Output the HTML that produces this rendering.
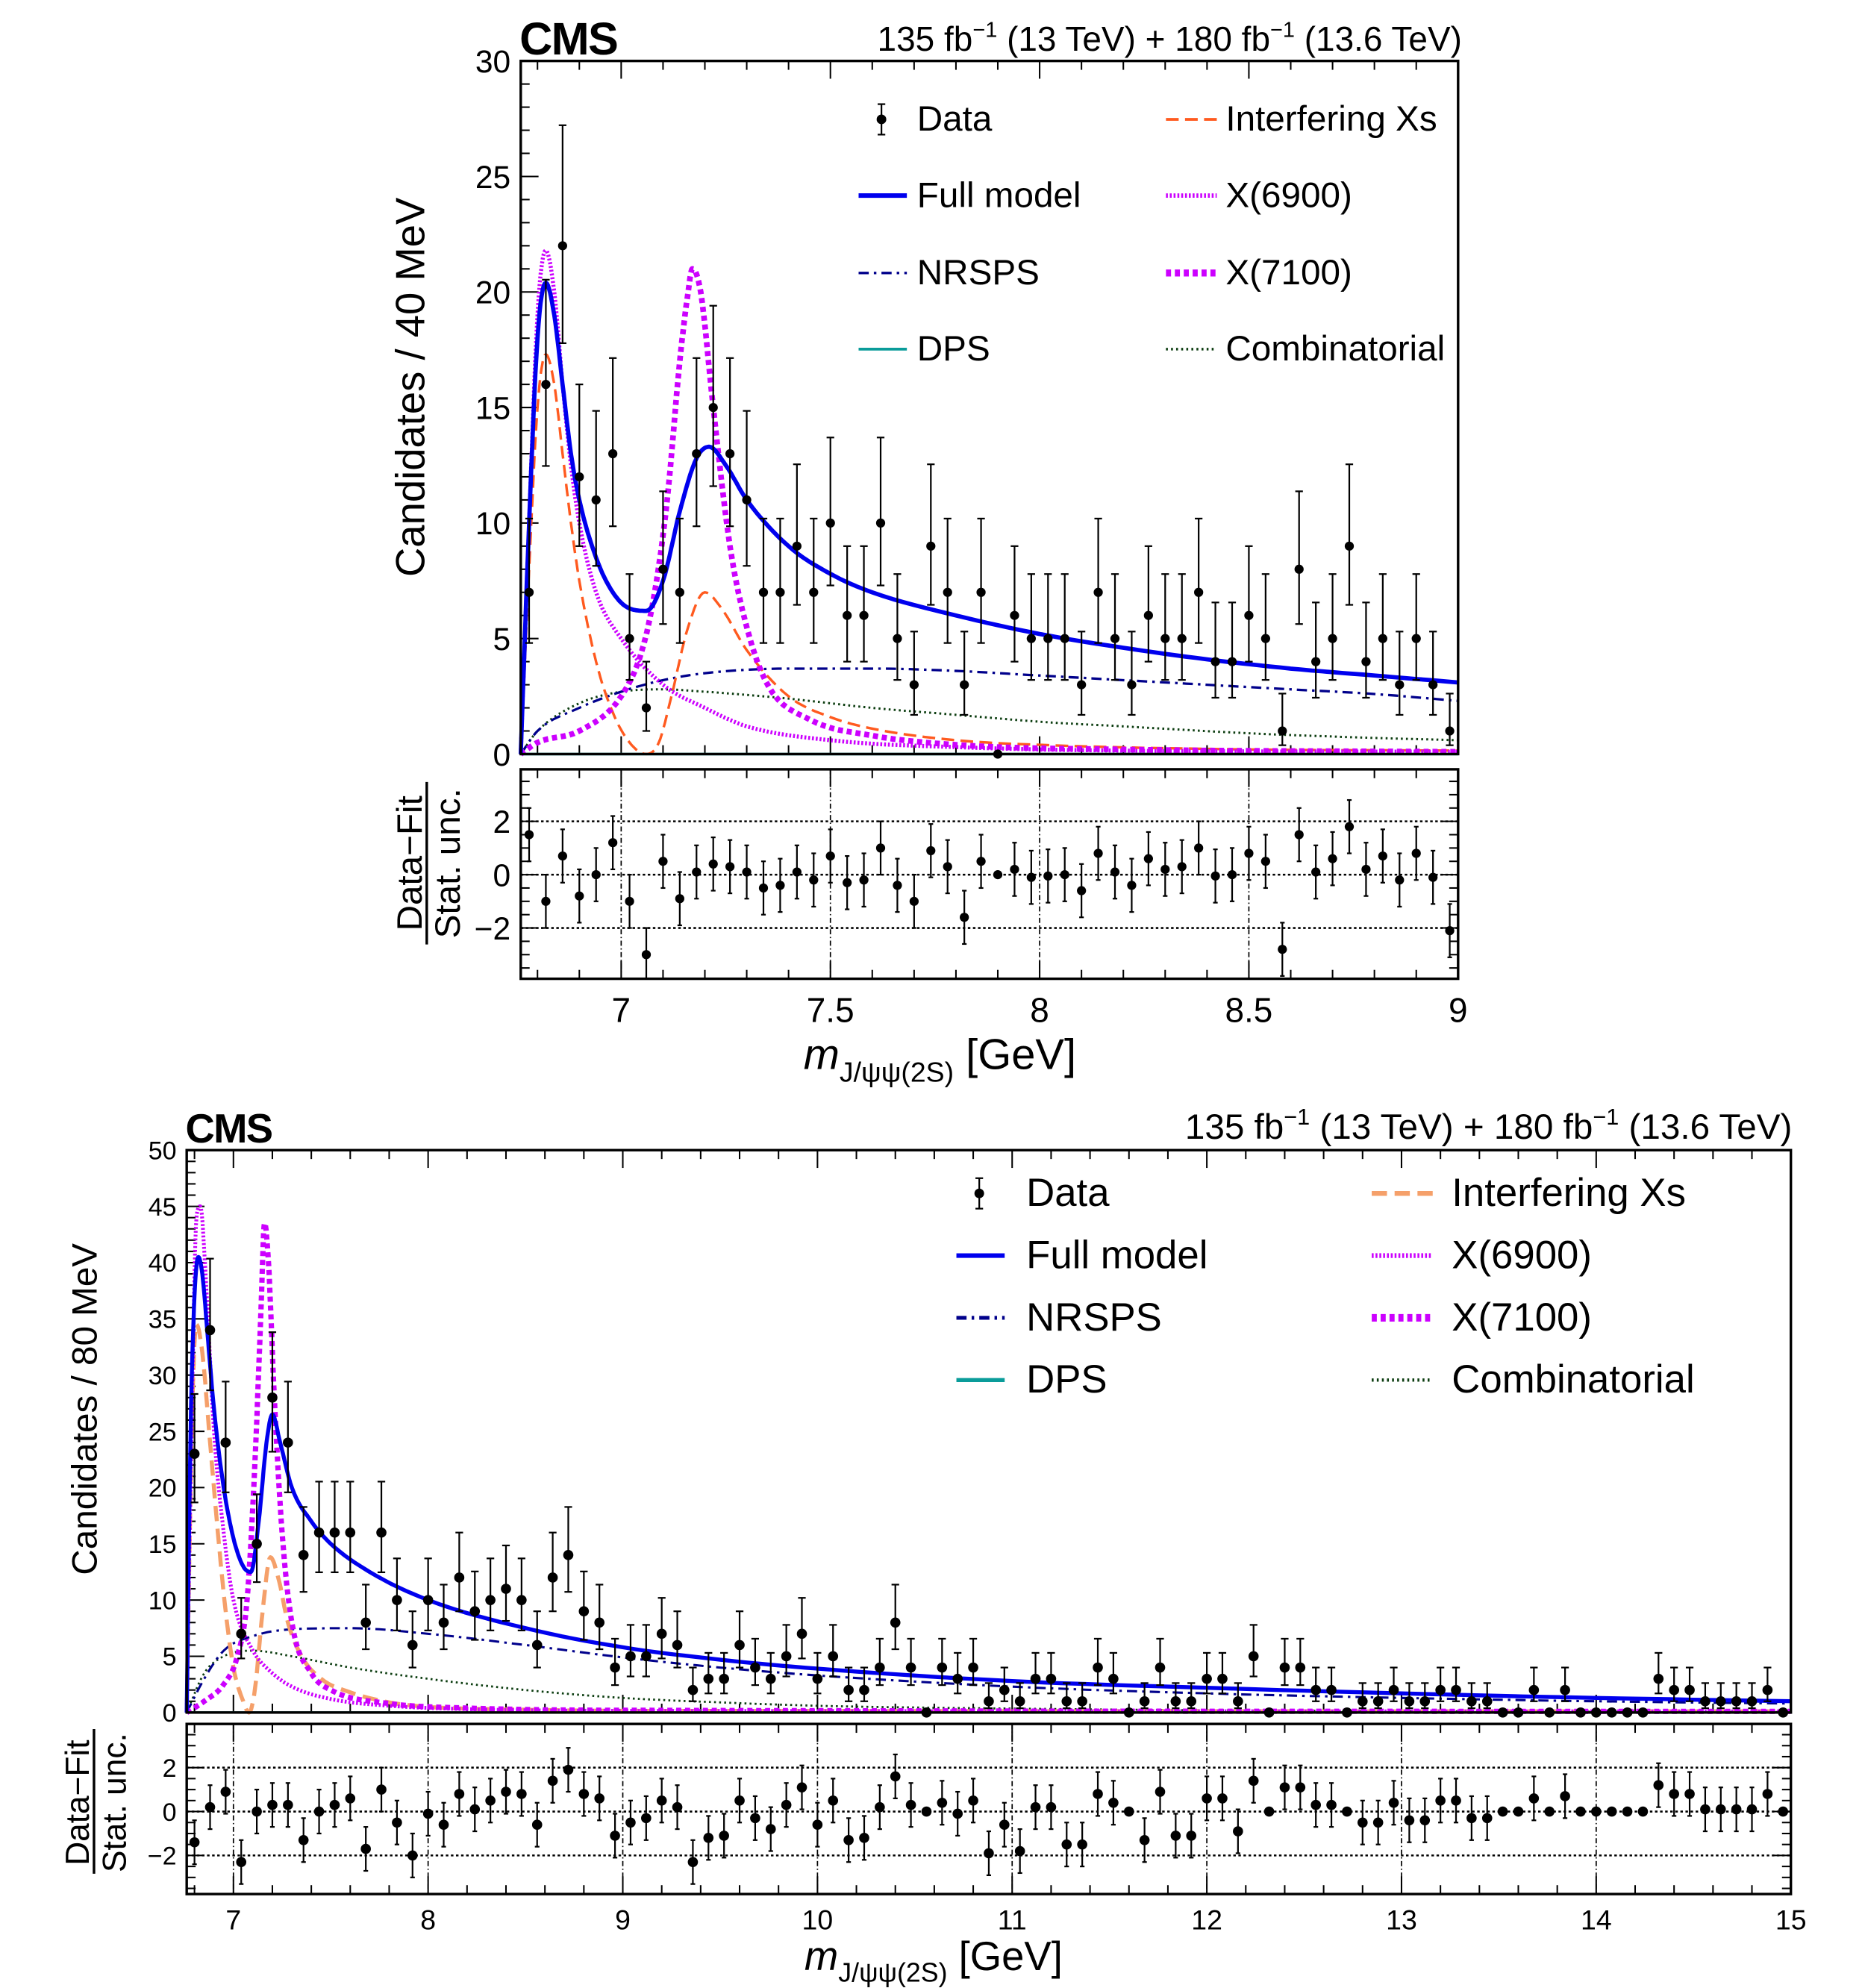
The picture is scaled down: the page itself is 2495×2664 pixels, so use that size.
<!DOCTYPE html>
<html><head><meta charset="utf-8"><style>
html,body{margin:0;padding:0;background:#fff;}
svg{display:block;font-family:"Liberation Sans",sans-serif;}
</style></head><body>
<svg id="fig" xmlns="http://www.w3.org/2000/svg" width="2495" height="2664" viewBox="0 0 1466 1566" preserveAspectRatio="none"></svg>
<script>
// ===== Top plot data (40 MeV bins, 6.76-9.00 GeV) =====
const topCounts=[7,16,22,12,11,13,5,2,8,7,13,15,13,11,7,7,9,7,10,6,6,10,5,3,9,7,3,7,0,6,5,5,5,3,7,5,3,6,5,5,7,4,4,6,5,1,8,4,5,9,4,5,3,5,3,1];
const topPulls=[1.5,-1,0.7,-0.8,0,1.2,-1,-3,0.5,-0.9,0.1,0.4,0.3,0.1,-0.5,-0.4,0.1,-0.2,0.7,-0.3,-0.2,1.0,-0.4,-1.0,0.9,0.3,-1.6,0.5,0.0,0.2,-0.1,-0.05,0,-0.6,0.8,0.1,-0.4,0.6,0.2,0.3,1.0,-0.05,0,0.8,0.5,-2.8,1.5,0.1,0.6,1.8,0.2,0.7,-0.2,0.8,-0.1,-2.1];
const topYTicks=[0,5,10,15,20,25,30];
const topXTicks=[7,7.5,8,8.5,9];
const topFullM=[6.76,6.78,6.80,6.82,6.84,6.86,6.88,6.90,6.94,6.98,7.02,7.06,7.10,7.14,7.18,7.21,7.25,7.30,7.40,7.50,7.60,7.80,8.0,8.2,8.4,8.6,8.8,9.0];
const topFullV=[0,10,18,20.4,19,16,13,11,8.5,7,6.3,6.2,7.5,10.5,12.8,13.3,12.5,11,9,7.8,7.0,6.0,5.2,4.6,4.1,3.7,3.4,3.1];
const topIntM=[6.76,6.78,6.80,6.82,6.84,6.86,6.88,6.90,6.94,6.98,7.02,7.06,7.09,7.12,7.16,7.20,7.24,7.30,7.40,7.50,7.60,7.80,8.0,8.5,9.0];
const topIntV=[0,8,15,17.3,16,13,10,7.5,4,1.8,0.5,0,0.5,2.5,5.5,7.0,6.3,4.5,2.5,1.6,1.1,0.6,0.4,0.2,0.15];
const topX69M=[6.76,6.78,6.80,6.82,6.84,6.86,6.88,6.90,6.94,7.0,7.1,7.2,7.3,7.5,7.8,8.2,9.0];
const topX69V=[0,10,19,21.8,20,16,12.5,10,7,5,3,2,1.2,0.6,0.3,0.15,0.1];
const topX71M=[6.76,6.8,6.9,7.0,7.05,7.08,7.11,7.14,7.16,7.17,7.19,7.22,7.26,7.30,7.35,7.45,7.6,7.8,8.2,9.0];
const topX71V=[0,0.5,1.0,2.5,4.5,7,11,17,20,21,20,15,9,5.5,3,1.5,0.8,0.4,0.2,0.1];
const topNrM=[6.76,6.8,6.9,7.0,7.1,7.2,7.4,7.6,7.8,8.0,8.2,8.4,8.6,8.8,9.0];
const topNrV=[0,1.0,2.0,2.7,3.2,3.5,3.7,3.7,3.6,3.4,3.2,3.0,2.8,2.6,2.3];
const topCbM=[6.76,6.8,6.9,7.0,7.1,7.2,7.4,7.6,7.8,8.0,8.2,8.5,8.8,9.0];
const topCbV=[0,1.0,2.2,2.7,2.8,2.7,2.4,2.0,1.7,1.4,1.2,0.9,0.7,0.6];
const topDpsM=[6.76,9.0];
const topDpsV=[0,0];

// ===== Bottom plot data (80 MeV bins, 6.76-15.00 GeV) =====
const botCounts=[23,34,24,7,15,28,24,14,16,16,16,8,16,10,6,10,8,12,9,10,11,10,6,12,14,9,8,4,5,5,7,6,2,3,3,6,4,3,5,7,3,5,2,2,4,8,4,0,4,3,4,1,2,1,3,3,1,1,4,3,0,1,4,1,1,3,3,1,5,0,4,4,2,2,0,1,1,2,1,1,2,2,1,1,0,0,2,0,2,0,0,0,0,0,3,2,2,1,1,1,1,2,0];
const botPulls=[-1.4,0.2,0.9,-2.3,0,0.3,0.3,-1.3,0,0.3,0.6,-1.7,1.0,-0.5,-2.0,-0.1,-0.6,0.8,0.1,0.5,0.9,0.8,-0.6,1.4,1.9,0.8,0.6,-1.1,-0.5,-0.3,0.5,0.2,-2.3,-1.2,-1.1,0.5,-0.3,-0.8,0.3,1.1,-0.6,0.5,-1.3,-1.2,0.2,1.6,0.3,0.0,0.4,-0.1,0.5,-1.9,-0.6,-1.8,0.2,0.2,-1.5,-1.5,0.8,0.4,0,-1.3,0.9,-1.1,-1.1,0.6,0.6,-0.9,1.4,0,1.1,1.1,0.3,0.3,0,-0.5,-0.5,0.4,-0.4,-0.4,0.5,0.5,-0.3,-0.3,0,0,0.6,0,0.7,0,0,0,0,0,1.2,0.8,0.8,0.1,0.1,0.1,0.1,0.8,0];
const botYTicks=[0,5,10,15,20,25,30,35,40,45,50];
const botXTicks=[7,8,9,10,11,12,13,14,15];
const botFullM=[6.76,6.78,6.80,6.82,6.84,6.87,6.90,6.95,7.0,7.05,7.09,7.13,7.17,7.20,7.24,7.30,7.4,7.5,7.7,8.0,8.5,9.0,9.5,10,11,12,13,14,15];
const botFullV=[0,25,37,40.5,39,33,27,20,15.5,13,12.5,17,24,26.5,24,20,17,15,12.5,10,7.5,5.8,4.7,3.9,2.8,2.2,1.7,1.3,1.0];
const botIntM=[6.76,6.79,6.81,6.84,6.88,6.92,6.96,7.0,7.05,7.08,7.11,7.15,7.19,7.23,7.28,7.35,7.45,7.6,7.8,8.0,8.5,9,15];
const botIntV=[0,28,34.5,32,24,16,9,4,1,0,2,9,13.8,12,8,5,3,1.8,0.9,0.5,0.25,0.15,0.1];
const botX69M=[6.76,6.79,6.81,6.83,6.86,6.9,6.95,7.0,7.1,7.2,7.3,7.5,7.8,8.2,9,15];
const botX69V=[0,30,44,45,38,25,16,10,5.5,3.5,2.3,1.2,0.6,0.3,0.15,0.1];
const botX71M=[6.76,6.85,6.95,7.02,7.07,7.11,7.14,7.16,7.18,7.21,7.25,7.3,7.4,7.5,7.8,8.2,9,15];
const botX71V=[0,1,2.5,5,10,22,35,43.5,40,28,16,8,3.5,2,0.8,0.4,0.2,0.1];
const botNrM=[6.76,6.85,6.95,7.1,7.3,7.6,8.0,8.5,9.0,9.5,10,11,12,13,14,15];
const botNrV=[0,3,5.5,6.8,7.4,7.5,7.0,6.0,4.9,4.0,3.3,2.3,1.7,1.3,1.0,0.8];
const botCbM=[6.76,6.85,6.95,7.1,7.3,7.6,8.0,8.5,9,9.5,10,11,12,13,15];
const botCbV=[0,3.5,5,5.5,5.0,4.0,3.0,2.0,1.3,0.9,0.6,0.35,0.2,0.12,0.05];
const botDpsM=[6.76,15];
const botDpsV=[0,0];

const NS="http://www.w3.org/2000/svg";
const svg=document.getElementById('fig');
function mk(tag,attrs,parent){const e=document.createElementNS(NS,tag);for(const k in attrs)e.setAttribute(k,attrs[k]);(parent||svg).appendChild(e);return e;}
function txt(s,x,y,size,anchor,parent,extra){const t=mk('text',Object.assign({x:x,y:y,'font-size':size,'text-anchor':anchor||'start',fill:'#000'},extra||{}),parent);t.textContent=s;return t;}
function garwood(n){const s=Math.sqrt(n+0.25);return [Math.max(0,n+0.5-s), n+0.5+s];}
// monotone cubic interpolation (Fritsch-Carlson), returns dense samples
function monotone(xs,ys,steps){
  const n=xs.length;if(n<3)return xs.map((x,i)=>[x,ys[i]]);
  const d=[],m=new Array(n);
  for(let i=0;i<n-1;i++)d.push((ys[i+1]-ys[i])/(xs[i+1]-xs[i]));
  m[0]=d[0];m[n-1]=d[n-2];
  for(let i=1;i<n-1;i++){m[i]=(d[i-1]*d[i]<=0)?0:(d[i-1]+d[i])/2;}
  for(let i=0;i<n-1;i++){if(d[i]===0){m[i]=0;m[i+1]=0;continue;}
    const a=m[i]/d[i],b=m[i+1]/d[i],s=a*a+b*b;if(s>9){const t=3/Math.sqrt(s);m[i]=t*a*d[i];m[i+1]=t*b*d[i];}}
  const out=[];
  for(let i=0;i<n-1;i++){const h=xs[i+1]-xs[i];
    for(let k=0;k<steps;k++){const t=k/steps,t2=t*t,t3=t2*t;
      const y=(2*t3-3*t2+1)*ys[i]+(t3-2*t2+t)*h*m[i]+(-2*t3+3*t2)*ys[i+1]+(t3-t2)*h*m[i+1];
      out.push([xs[i]+t*h,Math.max(0,y)]);}}
  out.push([xs[n-1],ys[n-1]]);return out;
}

function panel(cfg){
  const g=mk('g',{});
  
  
  const X=m=>cfg.x0+(m-cfg.mMin)/(cfg.mMax-cfg.mMin)*(cfg.x1-cfg.x0);
  const Y=v=>cfg.y1-v/cfg.yMax*(cfg.y1-cfg.y0);
  const R=v=>cfg.r0v+(-v)*cfg.rScale;
  for(let v=0;v<=cfg.yMax+1e-9;v+=cfg.yMinor){
    const major=Math.abs(v/cfg.yMajor-Math.round(v/cfg.yMajor))<1e-6;
    const len=major?cfg.tickL:cfg.tickL/2;
    mk('line',{x1:cfg.x0,x2:cfg.x0+len,y1:Y(v),y2:Y(v),stroke:'#000','stroke-width':1.2},g);
  }
  cfg.yTicks.forEach(v=>{const t=txt(String(v),cfg.x0-8,Y(v)+cfg.yLabSize*0.36,cfg.yLabSize,'end',g);
    });
  for(let m=Math.ceil(cfg.mMin/cfg.xMinor)*cfg.xMinor;m<=cfg.mMax+1e-9;m+=cfg.xMinor){
    const major=Math.abs(m/cfg.xMajor-Math.round(m/cfg.xMajor))<1e-6;
    const len=major?cfg.tickL:cfg.tickL/2;
    [[cfg.y1,-1],[cfg.y0,1],[cfg.ry1,-1],[cfg.ry0,1]].forEach(([yy,d])=>
      mk('line',{x1:X(m),x2:X(m),y1:yy,y2:yy+d*len,stroke:'#000','stroke-width':1.2},g));
  }
  for(let v=-3.5;v<=3.5+1e-9;v+=0.5){
    const major=Math.abs(v-Math.round(v/2)*2)<1e-6;
    const len=major?cfg.tickL:cfg.tickL/2;
    mk('line',{x1:cfg.x0,x2:cfg.x0+len,y1:R(v),y2:R(v),stroke:'#000','stroke-width':1.2},g);
    mk('line',{x1:cfg.x1,x2:cfg.x1-len,y1:R(v),y2:R(v),stroke:'#000','stroke-width':1.2},g);
  }
  [-2,0,2].forEach(v=>{
    mk('line',{x1:cfg.x0,x2:cfg.x1,y1:R(v),y2:R(v),stroke:'#000','stroke-width':1.5,'stroke-dasharray':'2,2'},g);
    const t=txt(v<0?'\u22122':String(v),cfg.x0-8,R(v)+cfg.yLabSize*0.36,cfg.yLabSize,'end',g);
    
  });
  cfg.xTicks.forEach(m=>{
    if(m<cfg.mMax-1e-6) mk('line',{x1:X(m),x2:X(m),y1:cfg.ry0,y2:cfg.ry1,stroke:'#000','stroke-width':1,'stroke-dasharray':'4,2,1,2'},g);
    const t=txt(String(m),X(m),cfg.xLabY,cfg.xLabSize,'middle',g);
    
  });
  const curves=[
    ['dps-curve',cfg.dpsM,cfg.dpsV,'#0a9c9a',cfg.lw*1.3,''],
    ['combinatorial-curve',cfg.cbM,cfg.cbV,'#0c3d10',cfg.lw*1.1,'1.5,2.5'],
    ['nrsps-curve',cfg.nrM,cfg.nrV,'#00008b',cfg.lw*1.2,'8,4,2,4'],
    ['interfering-xs-curve',cfg.intM,cfg.intV,cfg.intColor,cfg.intW,cfg.intDash],
    ['x6900-curve',cfg.x69M,cfg.x69V,'#cc00ff',cfg.lw*2,'1.5,1.5'],
    ['x7100-curve',cfg.x71M,cfg.x71V,'#cc00ff',cfg.lw*2.8,'4,3'],
    ['full-model-curve',cfg.fullM,cfg.fullV,'#0000ee',cfg.lw*2.1,'']
  ];
  curves.forEach(([nm,ms,vs,col,w,dash])=>{
    const pts=monotone(ms,vs,8).map(([m,v])=>X(m).toFixed(1)+','+Y(v).toFixed(1)).join(' ');
    const p=mk('polyline',{points:pts,fill:'none',stroke:col,'stroke-width':w,'stroke-dasharray':dash,'stroke-linejoin':'round'},g);
    
    
  });
  cfg.counts.forEach((n,i)=>{
    const m=cfg.mMin+cfg.bw*(i+0.5);const x=X(m);
    const [lo,hi]=garwood(n);
    const grp=mk('g',{},g);
    
    
    if(n>0){
      mk('line',{x1:x,x2:x,y1:Y(lo),y2:Y(Math.min(hi,cfg.yMax)),stroke:'#000','stroke-width':1.3},grp);
      mk('line',{x1:x-cfg.cap,x2:x+cfg.cap,y1:Y(lo),y2:Y(lo),stroke:'#000','stroke-width':1.3},grp);
      if(hi<cfg.yMax) mk('line',{x1:x-cfg.cap,x2:x+cfg.cap,y1:Y(hi),y2:Y(hi),stroke:'#000','stroke-width':1.3},grp);
    }
    mk('circle',{cx:x,cy:Y(n),r:cfg.mr,fill:'#000'},grp);
  });
  cfg.pulls.forEach((p,i)=>{
    const m=cfg.mMin+cfg.bw*(i+0.5);const x=X(m);
    const grp=mk('g',{},g);
    
    
    if(cfg.counts[i]>0){
      const a=Math.max(p-1,-3.9),b=Math.min(p+1,3.9);
      mk('line',{x1:x,x2:x,y1:R(a),y2:R(b),stroke:'#000','stroke-width':1.3},grp);
      if(p-1>-3.9) mk('line',{x1:x-cfg.cap*0.6,x2:x+cfg.cap*0.6,y1:R(a),y2:R(a),stroke:'#000','stroke-width':1.3},grp);
      mk('line',{x1:x-cfg.cap*0.6,x2:x+cfg.cap*0.6,y1:R(b),y2:R(b),stroke:'#000','stroke-width':1.3},grp);
    }
    mk('circle',{cx:x,cy:R(p),r:cfg.mr,fill:'#000'},grp);
  });
  const f1=mk('rect',{x:cfg.x0,y:cfg.y0,width:cfg.x1-cfg.x0,height:cfg.y1-cfg.y0,fill:'none',stroke:'#000','stroke-width':2},g);
  
  const f2=mk('rect',{x:cfg.x0,y:cfg.ry0,width:cfg.x1-cfg.x0,height:cfg.ry1-cfg.ry0,fill:'none',stroke:'#000','stroke-width':2},g);
  
  return g;
}

panel({name:'top-panel',x0:410,x1:1148,y0:48,y1:594,mMin:6.76,mMax:9.0,yMax:30,bw:0.04,
  ry0:606,ry1:771,r0v:689,rScale:21,
  yMajor:5,yMinor:1,xMajor:0.5,xMinor:0.1,tickL:14,yLabSize:25,xLabSize:27,xLabY:805,
  yTicks:topYTicks,xTicks:topXTicks,counts:topCounts,pulls:topPulls,cap:3,mr:3.6,lw:1.6,
  intColor:'#ff5a1f',intW:2,intDash:'10,5',
  fullM:topFullM,fullV:topFullV,intM:topIntM,intV:topIntV,x69M:topX69M,x69V:topX69V,x71M:topX71M,x71V:topX71V,
  nrM:topNrM,nrV:topNrV,cbM:topCbM,cbV:topCbV,dpsM:topDpsM,dpsV:topDpsV});

panel({name:'bottom-panel',x0:147,x1:1410,y0:906,y1:1349,mMin:6.76,mMax:15.0,yMax:50,bw:0.08,
  ry0:1358,ry1:1492,r0v:1427,rScale:17.3,
  yMajor:5,yMinor:1,xMajor:1,xMinor:0.2,tickL:14,yLabSize:20,xLabSize:22,xLabY:1520,
  yTicks:botYTicks,xTicks:botXTicks,counts:botCounts,pulls:botPulls,cap:3,mr:4,lw:1.5,
  intColor:'#f5a06a',intW:3.2,intDash:'12,6',
  fullM:botFullM,fullV:botFullV,intM:botIntM,intV:botIntV,x69M:botX69M,x69V:botX69V,x71M:botX71M,x71V:botX71V,
  nrM:botNrM,nrV:botNrV,cbM:botCbM,cbV:botCbV,dpsM:botDpsM,dpsV:botDpsV});

function legend(parent,prefix,mx,tx,rx0,rx1,rtx,rows,size,lws){
  const items=[
    ['legend-data',rows[0],'data','Data'],
    ['legend-full-model',rows[1],'full','Full model'],
    ['legend-nrsps',rows[2],'nr','NRSPS'],
    ['legend-dps',rows[3],'dps','DPS'],
    ['legend-interfering-xs',rows[0],'int','Interfering Xs'],
    ['legend-x6900',rows[1],'x69','X(6900)'],
    ['legend-x7100',rows[2],'x71','X(7100)'],
    ['legend-combinatorial',rows[3],'cb','Combinatorial']
  ];
  items.forEach(([nm,y,kind,label])=>{
    const g=mk('g',{},parent);
    
    
    const left=['data','full','nr','dps'].includes(kind);
    const a=left?mx-26:rx0,b=left?mx+20:rx1,yy=y-size*0.32;
    if(kind==='data'){mk('line',{x1:mx,x2:mx,y1:yy-12,y2:yy+12,stroke:'#000','stroke-width':1.3},g);
      mk('line',{x1:mx-3,x2:mx+3,y1:yy-12,y2:yy-12,stroke:'#000','stroke-width':1.3},g);
      mk('line',{x1:mx-3,x2:mx+3,y1:yy+12,y2:yy+12,stroke:'#000','stroke-width':1.3},g);
      mk('circle',{cx:mx,cy:yy,r:3.8,fill:'#000'},g);}
    if(kind==='full')mk('line',{x1:a+8,x2:b,y1:yy,y2:yy,stroke:'#0000ee','stroke-width':lws.full},g);
    if(kind==='nr')mk('line',{x1:a+8,x2:b,y1:yy,y2:yy,stroke:'#00008b','stroke-width':lws.nr,'stroke-dasharray':'8,4,2,4'},g);
    if(kind==='dps')mk('line',{x1:a+8,x2:b,y1:yy,y2:yy,stroke:'#0a9c9a','stroke-width':lws.dps},g);
    if(kind==='int')mk('line',{x1:a,x2:b,y1:yy,y2:yy,stroke:lws.intc,'stroke-width':lws.int,'stroke-dasharray':lws.intd},g);
    if(kind==='x69')mk('line',{x1:a,x2:b,y1:yy,y2:yy,stroke:'#cc00ff','stroke-width':lws.x69,'stroke-dasharray':'1.5,1.5'},g);
    if(kind==='x71')mk('line',{x1:a,x2:b,y1:yy,y2:yy,stroke:'#cc00ff','stroke-width':lws.x71,'stroke-dasharray':'4,3'},g);
    if(kind==='cb')mk('line',{x1:a,x2:b,y1:yy,y2:yy,stroke:'#0c3d10','stroke-width':lws.cb,'stroke-dasharray':'1.5,2.5'},g);
    txt(label,left?tx:rtx,y,size,'start',g);
  });
}
const L=mk('g',{});

let t;
t=txt('CMS',409,43,36,'start',L,{'font-weight':'bold','letter-spacing':'-1'});
t=mk('text',{x:1151,y:40,'font-size':27,'text-anchor':'end'},L);
t.innerHTML='135 fb<tspan dy="-11" font-size="17">\u22121</tspan><tspan dy="11"> (13 TeV) + 180 fb</tspan><tspan dy="-11" font-size="17">\u22121</tspan><tspan dy="11"> (13.6 TeV)</tspan>';

t=txt('Candidates / 40 MeV',334,305,32,'middle',L,{transform:'rotate(-90 334 305)'});

t=txt('Data\u2212Fit',332,680,28,'middle',L,{transform:'rotate(-90 332 680)'});
mk('line',{x1:336,x2:336,y1:616,y2:744,stroke:'#000','stroke-width':2},L);
t=txt('Stat. unc.',362,680,28,'middle',L,{transform:'rotate(-90 362 680)'});
t=mk('text',{x:740,y:842,'font-size':34,'text-anchor':'middle'},L);
t.innerHTML='<tspan font-style="italic">m</tspan><tspan dy="10" font-size="22">J/\u03c8\u03c8(2S)</tspan><tspan dy="-10"> [GeV]</tspan>';

legend(L,'top-',694,722,918,958,965,[103,163,224,284],28,{full:3.6,nr:2,dps:2.2,int:2.2,intc:'#ff5a1f',intd:'10,5',x69:3.5,x71:5.5,cb:2});

t=txt('CMS',146,900,32,'start',L,{'font-weight':'bold','letter-spacing':'-1'});
t=mk('text',{x:1411,y:897,'font-size':28,'text-anchor':'end'},L);
t.innerHTML='135 fb<tspan dy="-11" font-size="18">\u22121</tspan><tspan dy="11"> (13 TeV) + 180 fb</tspan><tspan dy="-11" font-size="18">\u22121</tspan><tspan dy="11"> (13.6 TeV)</tspan>';

t=txt('Candidates / 80 MeV',76,1110,28,'middle',L,{transform:'rotate(-90 76 1110)'});

t=txt('Data\u2212Fit',70,1420,26,'middle',L,{transform:'rotate(-90 70 1420)'});
mk('line',{x1:74,x2:74,y1:1362,y2:1476,stroke:'#000','stroke-width':2},L);
t=txt('Stat. unc.',99,1420,26,'middle',L,{transform:'rotate(-90 99 1420)'});
t=mk('text',{x:735,y:1552,'font-size':32,'text-anchor':'middle'},L);
t.innerHTML='<tspan font-style="italic">m</tspan><tspan dy="9" font-size="21">J/\u03c8\u03c8(2S)</tspan><tspan dy="-9"> [GeV]</tspan>';

legend(L,'bottom-',771,808,1080,1128,1143,[950,999,1048,1097],31,{full:3.6,nr:3,dps:3.2,int:3.8,intc:'#f5a06a',intd:'12,6',x69:3.8,x71:6,cb:2.6});
</script>
</body></html>
